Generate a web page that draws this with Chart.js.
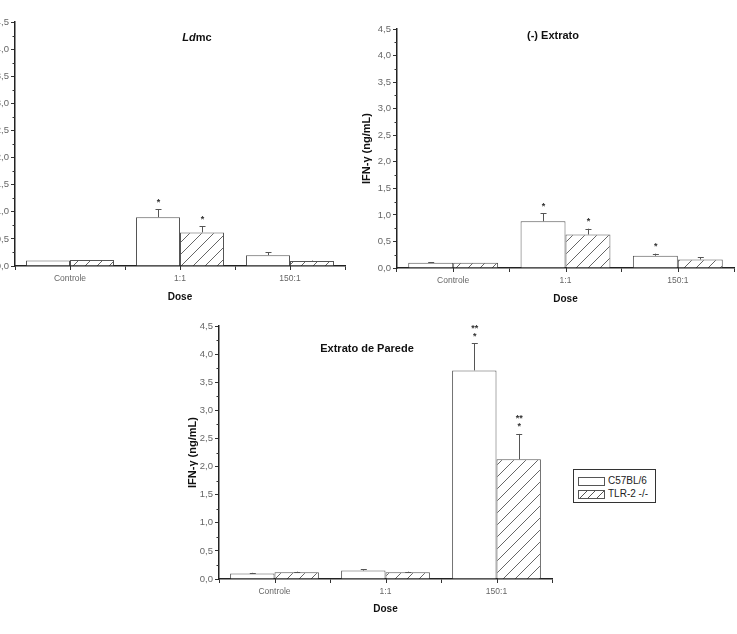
<!DOCTYPE html>
<html>
<head>
<meta charset="utf-8">
<script src="https://cdn.jsdelivr.net/npm/chart.js@4/dist/chart.umd.min.js"></script>
<style>
  html, body { margin: 0; padding: 0; background: #fff; }
  body { width: 737px; height: 634px; position: relative; overflow: hidden; font-family: 'Liberation Sans', Arial, sans-serif; }
  canvas { position: absolute; }
  #legend { position: absolute; left: 573px; top: 469px; width: 81px; height: 32px; border: 1.5px solid #333; background: #fff; }
  .row { position: absolute; left: 4px; height: 10px; font-size: 10px; line-height: 10px; color: #222; white-space: nowrap; }
  .sw { display: inline-block; width: 25px; height: 7px; border: 1px solid #555; vertical-align: top; margin-top: 1px; margin-right: 3px; background: #fff; }
  .sw.h { background: repeating-linear-gradient(135deg, #fff 0px, #fff 5px, #555 5px, #555 6px); }
</style>
</head>
<body>
<canvas id="c1" width="400" height="310" style="left:-45px;top:0px"></canvas>
<canvas id="c2" width="397" height="310" style="left:340px;top:0px"></canvas>
<canvas id="c3" width="400" height="324" style="left:160px;top:310px"></canvas>
<div id="legend">
  <div class="row" style="top:6px"><span class="sw"></span>C57BL/6</div>
  <div class="row" style="top:19px"><span class="sw h"></span>TLR-2 -/-</div>
</div>
<script>
// ---- data ----
const doses = ['Controle', '1:1', '150:1'];
const seriesNames = ['C57BL/6', 'TLR-2 -/-'];
const yTicks = [0, 0.5, 1.0, 1.5, 2.0, 2.5, 3.0, 3.5, 4.0, 4.5];

// Ldmc
const ldmcC57 = [0.10, 0.90, 0.20];
const ldmcC57Err = [0.00, 0.15, 0.05];
const ldmcTLR = [0.11, 0.62, 0.09];
const ldmcTLRErr = [0.00, 0.11, 0.01];
const ldmcC57Stars = ['', '*', ''];
const ldmcTLRStars = ['', '*', ''];

// (-) Extrato
const extC57 = [0.10, 0.88, 0.23];
const extC57Err = [0.01, 0.15, 0.04];
const extTLR = [0.10, 0.63, 0.16];
const extTLRErr = [0.00, 0.11, 0.04];
const extC57Stars = ['', '*', '*'];
const extTLRStars = ['', '*', ''];

// Extrato de Parede
const parC57 = [0.10, 0.15, 3.71];
const parC57Err = [0.01, 0.02, 0.48];
const parTLR = [0.12, 0.12, 2.13];
const parTLRErr = [0.01, 0.01, 0.45];
const parC57Stars = ['', '', '**|*'];
const parTLRStars = ['', '', '**|*'];

// ---- styling ----
const FONT = "'Liberation Sans', Arial, sans-serif";

function hatch() {
  const c = document.createElement('canvas');
  c.width = 12; c.height = 12;
  const g = c.getContext('2d');
  g.fillStyle = '#fff'; g.fillRect(0, 0, 12, 12);
  g.strokeStyle = '#555'; g.lineWidth = 0.9;
  g.beginPath();
  g.moveTo(0, 12); g.lineTo(12, 0);
  g.moveTo(-6, 6); g.lineTo(6, -6);
  g.moveTo(6, 18); g.lineTo(18, 6);
  g.stroke();
  return g.createPattern(c, 'repeat');
}

const extras = {
  id: 'extras',
  afterDatasetsDraw(chart, args, opts) {
    const ctx = chart.ctx, y = chart.scales.y, x = chart.scales.x, ca = chart.chartArea;
    ctx.save();
    // error bars and significance marks
    chart.data.datasets.forEach((ds, di) => {
      const meta = chart.getDatasetMeta(di);
      meta.data.forEach((bar, i) => {
        const v = ds.data[i], e = ds.errors[i];
        const yTop = y.getPixelForValue(v), yErr = y.getPixelForValue(v + e);
        if (e > 0) {
          ctx.strokeStyle = '#555'; ctx.lineWidth = 1;
          ctx.beginPath();
          ctx.moveTo(Math.round(bar.x) + 0.5, yTop);
          ctx.lineTo(Math.round(bar.x) + 0.5, yErr);
          ctx.moveTo(bar.x - 2.5, Math.round(yErr) + 0.5);
          ctx.lineTo(bar.x + 3.5, Math.round(yErr) + 0.5);
          ctx.stroke();
        }
        const s = ds.stars[i];
        if (s) {
          const lines = s.split('|');
          ctx.fillStyle = '#333';
          ctx.font = 'bold 9px ' + FONT;
          ctx.textAlign = 'center';
          ctx.textBaseline = 'middle';
          for (let k = 0; k < lines.length; k++) {
            const yy = yErr - 9 - (lines.length - 1 - k) * 8;
            ctx.fillText(lines[k], bar.x + 0.5, yy + 2);
          }
        }
      });
    });
    // minor y ticks
    ctx.strokeStyle = '#333'; ctx.lineWidth = 1;
    ctx.beginPath();
    for (let k = 0; k < yTicks.length - 1; k++) {
      const v = (yTicks[k] + yTicks[k + 1]) / 2;
      const py = Math.round(y.getPixelForValue(v)) + 0.5;
      ctx.moveTo(ca.left, py); ctx.lineTo(ca.left - 2.5, py);
    }
    // category centre ticks
    for (let i = 0; i < doses.length; i++) {
      const px = Math.round(x.getPixelForValue(i)) + 0.5;
      ctx.moveTo(px, ca.bottom - 1); ctx.lineTo(px, ca.bottom + 4);
    }
    ctx.stroke();
    // panel title
    if (opts.segments) {
      ctx.fillStyle = '#111';
      ctx.textBaseline = 'middle';
      ctx.textAlign = 'left';
      let total = 0;
      opts.segments.forEach(sg => { ctx.font = sg.font; total += ctx.measureText(sg.t).width; });
      let cx = opts.x - total / 2;
      opts.segments.forEach(sg => { ctx.font = sg.font; ctx.fillText(sg.t, cx, opts.y); cx += ctx.measureText(sg.t).width; });
    }
    ctx.restore();
  }
};

function makeChart(id, c57, c57Err, c57Stars, tlr, tlrErr, tlrStars, geo) {
  const ctx = document.getElementById(id).getContext('2d');
  return new Chart(ctx, {
    type: 'bar',
    data: {
      labels: doses,
      datasets: [
        { label: seriesNames[0], data: c57, errors: c57Err, stars: c57Stars,
          backgroundColor: '#fff', borderColor: '#555', borderWidth: 1, borderSkipped: 'bottom' },
        { label: seriesNames[1], data: tlr, errors: tlrErr, stars: tlrStars,
          backgroundColor: hatch(), borderColor: '#555', borderWidth: 1, borderSkipped: 'bottom' }
      ]
    },
    options: {
      responsive: false,
      animation: false,
      devicePixelRatio: 1,
      layout: { padding: { top: geo.top, right: geo.right, left: 0, bottom: 0 } },
      datasets: { bar: { categoryPercentage: 0.8, barPercentage: 1.0 } },
      plugins: {
        legend: { display: false },
        tooltip: { enabled: false },
        title: { display: false },
        extras: { segments: geo.title, x: geo.titleX, y: geo.titleY }
      },
      scales: {
        x: {
          offset: true,
          grid: { offset: true, drawOnChartArea: false, drawTicks: true, tickLength: 4, color: '#333' },
          border: { display: true, color: '#222', width: 1.5 },
          ticks: { color: '#666', font: { family: FONT, size: 8.5 }, padding: 4, maxRotation: 0 },
          title: { display: true, text: 'Dose', color: '#111', font: { family: FONT, size: 10, weight: 'bold' }, padding: { top: 0, bottom: geo.doseBottom } },
          afterFit(s) { s.height = geo.xH; }
        },
        y: {
          min: 0, max: 4.5,
          afterBuildTicks(s) { s.ticks = yTicks.map(v => ({ value: v })); },
          grid: { drawOnChartArea: false, drawTicks: true, tickLength: 4, color: '#333' },
          border: { display: true, color: '#222', width: 1.5 },
          ticks: { color: '#666', font: { family: FONT, size: 9.5 }, padding: 2, autoSkip: false,
                   callback: v => (Math.round(v * 10) / 10).toFixed(1).replace('.', ',') },
          title: { display: geo.yTitle, text: 'IFN-γ (ng/mL)', color: '#111', font: { family: FONT, size: 11, weight: 'bold' }, padding: { top: geo.yTitlePad, bottom: 0 } },
          afterFit(s) { s.width = geo.yW; }
        }
      }
    },
    plugins: [extras]
  });
}

makeChart('c1', ldmcC57, ldmcC57Err, ldmcC57Stars, ldmcTLR, ldmcTLRErr, ldmcTLRStars, {
  top: 22, right: 10, xH: 44, yW: 60, doseBottom: 7, yTitle: false, yTitlePad: 0,
  title: [{ t: 'Ld', font: 'italic bold 11px ' + FONT }, { t: 'mc', font: 'bold 11px ' + FONT }],
  titleX: 242, titleY: 38
});
makeChart('c2', extC57, extC57Err, extC57Stars, extTLR, extTLRErr, extTLRStars, {
  top: 29, right: 3, xH: 42, yW: 57, doseBottom: 5, yTitle: true, yTitlePad: 20,
  title: [{ t: '(-) Extrato', font: 'bold 11px ' + FONT }],
  titleX: 213, titleY: 36
});
makeChart('c3', parC57, parC57Err, parC57Stars, parTLR, parTLRErr, parTLRStars, {
  top: 16, right: 8, xH: 55, yW: 59, doseBottom: 19, yTitle: true, yTitlePad: 26,
  title: [{ t: 'Extrato de Parede', font: 'bold 11px ' + FONT }],
  titleX: 207, titleY: 39
});
</script>
</body>
</html>
